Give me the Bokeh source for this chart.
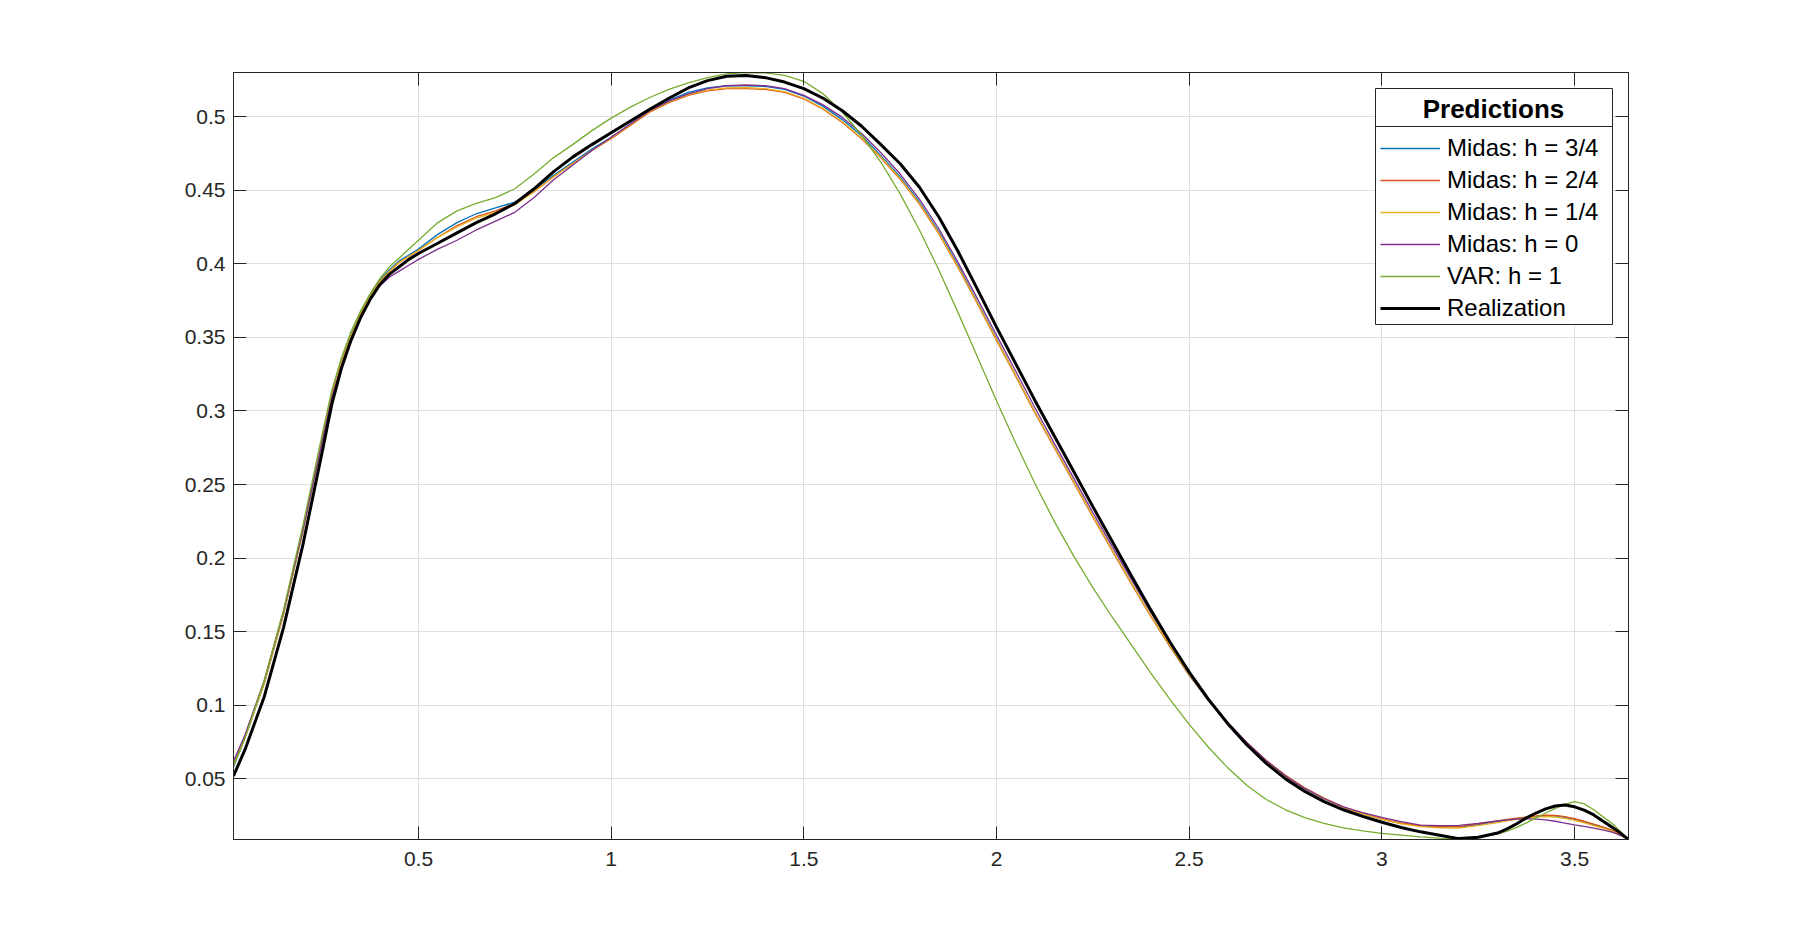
from bokeh.plotting import figure
from bokeh.models import (Range1d, LinearAxis, FixedTicker, Legend, LegendItem,
                          BoxAnnotation, Label)
from bokeh.embed import file_html
from bokeh.resources import INLINE

x = [0.02, 0.05, 0.10, 0.15, 0.20, 0.25, 0.275, 0.30, 0.325, 0.35,
     0.375, 0.40, 0.425, 0.45, 0.475, 0.50, 0.55, 0.60, 0.65, 0.70,
     0.75, 0.80, 0.85, 0.90, 0.95, 1.00, 1.05, 1.10, 1.15, 1.20,
     1.25, 1.30, 1.35, 1.40, 1.45, 1.50, 1.55, 1.60, 1.65, 1.70,
     1.75, 1.80, 1.85, 1.90, 1.95, 2.00, 2.05, 2.10, 2.15, 2.20,
     2.25, 2.30, 2.35, 2.40, 2.45, 2.50, 2.55, 2.60, 2.65, 2.70,
     2.75, 2.80, 2.85, 2.90, 2.95, 3.00, 3.05, 3.10, 3.15, 3.20,
     3.25, 3.30, 3.325, 3.35, 3.375, 3.40, 3.425, 3.45, 3.475, 3.50,
     3.525, 3.55, 3.575, 3.60, 3.62, 3.64]

midas_h34 = [0.058, 0.078, 0.115, 0.162, 0.218, 0.280, 0.311, 0.334, 0.352, 0.367,
             0.379, 0.389, 0.396, 0.402, 0.406, 0.410, 0.420, 0.428, 0.434, 0.438,
             0.442, 0.450, 0.460, 0.469, 0.478, 0.486, 0.495, 0.504, 0.511, 0.5165,
             0.5195, 0.521, 0.521, 0.5205, 0.5185, 0.514, 0.507, 0.498, 0.487, 0.4735,
             0.459, 0.442, 0.422, 0.399, 0.374, 0.349, 0.324, 0.299, 0.2755, 0.252,
             0.2285, 0.2055, 0.183, 0.161, 0.140, 0.1205, 0.103, 0.0875, 0.074, 0.062,
             0.052, 0.0435, 0.0365, 0.0305, 0.026, 0.0225, 0.0198, 0.018, 0.0172, 0.0172,
             0.019, 0.021, 0.022, 0.023, 0.0237, 0.0244, 0.0248, 0.0246, 0.0238, 0.0224,
             0.0207, 0.0188, 0.0168, 0.0146, 0.012, 0.0088]

midas_h24 = [0.060, 0.079, 0.116, 0.163, 0.219, 0.280, 0.311, 0.333, 0.351, 0.366,
             0.378, 0.388, 0.395, 0.401, 0.405, 0.409, 0.418, 0.426, 0.432, 0.436,
             0.441, 0.449, 0.459, 0.468, 0.477, 0.485, 0.494, 0.503, 0.5095, 0.5145,
             0.5175, 0.519, 0.519, 0.5185, 0.5165, 0.512, 0.505, 0.496, 0.485, 0.472,
             0.4575, 0.4405, 0.4205, 0.3975, 0.373, 0.348, 0.3235, 0.2985, 0.275, 0.2515,
             0.228, 0.205, 0.1825, 0.1605, 0.140, 0.1205, 0.1035, 0.088, 0.0745, 0.0625,
             0.0525, 0.044, 0.037, 0.031, 0.0265, 0.023, 0.020, 0.0183, 0.0176, 0.0176,
             0.0195, 0.0215, 0.0225, 0.0233, 0.0241, 0.0249, 0.0254, 0.0252, 0.0243, 0.0229,
             0.0212, 0.0193, 0.0172, 0.0149, 0.012, 0.0088]

midas_h14 = [0.059, 0.078, 0.115, 0.162, 0.218, 0.279, 0.310, 0.333, 0.351, 0.366,
             0.378, 0.388, 0.395, 0.401, 0.405, 0.409, 0.418, 0.425, 0.431, 0.435,
             0.440, 0.449, 0.459, 0.468, 0.477, 0.4855, 0.4945, 0.5035, 0.510, 0.515,
             0.518, 0.5195, 0.5198, 0.519, 0.517, 0.5125, 0.5055, 0.4965, 0.4855, 0.4725,
             0.458, 0.441, 0.421, 0.398, 0.3735, 0.3485, 0.324, 0.299, 0.2755, 0.252,
             0.2285, 0.2055, 0.183, 0.161, 0.1405, 0.121, 0.1035, 0.0875, 0.074, 0.062,
             0.052, 0.0435, 0.0365, 0.0305, 0.026, 0.0225, 0.0195, 0.0175, 0.0167, 0.0166,
             0.0182, 0.0203, 0.0214, 0.0225, 0.0233, 0.0240, 0.0244, 0.0241, 0.0232, 0.0218,
             0.0201, 0.0183, 0.0163, 0.0142, 0.0117, 0.0088]

midas_h0 = [0.062, 0.080, 0.117, 0.164, 0.219, 0.279, 0.309, 0.331, 0.349, 0.364,
            0.376, 0.385, 0.391, 0.395, 0.399, 0.403, 0.410, 0.416, 0.423, 0.429,
            0.435, 0.445, 0.457, 0.467, 0.477, 0.486, 0.495, 0.504, 0.5105, 0.5155,
            0.519, 0.521, 0.5215, 0.521, 0.519, 0.5145, 0.508, 0.4995, 0.4885, 0.4755,
            0.461, 0.444, 0.424, 0.401, 0.3765, 0.3515, 0.327, 0.302, 0.278, 0.2545,
            0.231, 0.208, 0.1855, 0.1635, 0.1425, 0.1225, 0.1045, 0.0885, 0.0745, 0.0625,
            0.052, 0.0435, 0.0365, 0.031, 0.027, 0.0238, 0.021, 0.0186, 0.0182, 0.0184,
            0.0198, 0.0215, 0.0222, 0.0227, 0.0228, 0.0226, 0.0222, 0.0212, 0.0200, 0.0188,
            0.0177, 0.0165, 0.0152, 0.0137, 0.0115, 0.0088]

var_h1 = [0.059, 0.078, 0.117, 0.165, 0.222, 0.284, 0.314, 0.336, 0.354, 0.368,
          0.380, 0.390, 0.398, 0.404, 0.410, 0.416, 0.428, 0.436, 0.441, 0.445,
          0.451, 0.461, 0.472, 0.481, 0.4905, 0.499, 0.5065, 0.513, 0.5185, 0.523,
          0.5265, 0.529, 0.530, 0.5297, 0.528, 0.524, 0.5155, 0.503, 0.4875, 0.469,
          0.4475, 0.423, 0.396, 0.367, 0.337, 0.307, 0.278, 0.2505, 0.225, 0.2015,
          0.180, 0.160, 0.141, 0.122, 0.104, 0.087, 0.0715, 0.0575, 0.0455, 0.036,
          0.029, 0.0237, 0.0197, 0.0167, 0.0146, 0.013, 0.0118, 0.0106, 0.0098, 0.0093,
          0.0102, 0.0125, 0.0145, 0.017, 0.0201, 0.0235, 0.0268, 0.030, 0.0326, 0.0345,
          0.033, 0.029, 0.024, 0.0192, 0.014, 0.0088]

realization = [0.052, 0.070, 0.106, 0.153, 0.209, 0.272, 0.3045, 0.329, 0.348, 0.3635,
               0.376, 0.386, 0.393, 0.398, 0.403, 0.407, 0.414, 0.421, 0.428, 0.434,
               0.441, 0.451, 0.4625, 0.4725, 0.481, 0.489, 0.497, 0.505, 0.5125, 0.5195,
               0.5245, 0.5275, 0.528, 0.5265, 0.5235, 0.519, 0.5125, 0.504, 0.4935, 0.481,
               0.468, 0.452, 0.432, 0.4085, 0.383, 0.357, 0.332, 0.307, 0.283, 0.259,
               0.235, 0.2115, 0.188, 0.165, 0.143, 0.1225, 0.104, 0.0875, 0.073, 0.0605,
               0.050, 0.0415, 0.0345, 0.029, 0.0245, 0.0205, 0.017, 0.014, 0.0117, 0.0094,
               0.0103, 0.0132, 0.016, 0.0195, 0.0235, 0.0268, 0.0296, 0.0316, 0.0322, 0.031,
               0.0288, 0.0255, 0.021, 0.0167, 0.013, 0.0088]

series_names = ["Midas: h = 3/4", "Midas: h = 2/4", "Midas: h = 1/4",
                "Midas: h = 0", "VAR: h = 1", "Realization"]
series_values = [midas_h34, midas_h24, midas_h14, midas_h0, var_h1, realization]
series_colors = ["#0072BD", "#D95319", "#EDB120", "#7E2F8E", "#77AC30", "#000000"]
series_widths = [1.3, 1.3, 1.3, 1.3, 1.3, 3.0]

legend_title = "Predictions"

x_ticks = [0.5, 1.0, 1.5, 2.0, 2.5, 3.0, 3.5]
x_tick_labels = ["0.5", "1", "1.5", "2", "2.5", "3", "3.5"]
y_ticks = [0.05, 0.1, 0.15, 0.2, 0.25, 0.3, 0.35, 0.4, 0.45, 0.5]
y_tick_labels = ["0.05", "0.1", "0.15", "0.2", "0.25", "0.3", "0.35", "0.4", "0.45", "0.5"]

all_vals = [v for s in series_values for v in s]
xr = Range1d(start=min(x), end=max(x))
yr = Range1d(start=min(all_vals), end=max(all_vals))

FONT = "Liberation Sans"
AX = "#262626"

# frame: left 233, top 72, width 1395, height 767
p = figure(width=1800, height=944, x_range=xr, y_range=yr,
           output_backend="svg", toolbar_location=None,
           min_border_left=233, min_border_right=172,
           min_border_top=72, min_border_bottom=105)
p.background_fill_color = "white"
p.border_fill_color = "white"
p.outline_line_color = AX

def style_axis(ax, ticks, labels, show_labels=True):
    ax.ticker = FixedTicker(ticks=ticks)
    if show_labels:
        ax.major_label_overrides = {t: l for t, l in zip(ticks, labels)}
    else:
        ax.major_label_overrides = {t: "" for t in ticks}
    ax.major_tick_in = 13
    ax.major_tick_out = 0
    ax.minor_tick_in = 0
    ax.minor_tick_out = 0
    ax.axis_line_color = AX
    ax.major_tick_line_color = AX
    ax.axis_line_width = 1
    ax.major_label_text_font = FONT
    ax.major_label_text_font_size = "21px"
    ax.major_label_text_color = AX

style_axis(p.xaxis[0], x_ticks, x_tick_labels)
p.xaxis[0].major_label_standoff = 12
style_axis(p.yaxis[0], y_ticks, y_tick_labels)
p.yaxis[0].major_label_standoff = 8

top_ax = LinearAxis()
style_axis(top_ax, x_ticks, x_tick_labels, show_labels=False)
p.add_layout(top_ax, "above")
right_ax = LinearAxis()
style_axis(right_ax, y_ticks, y_tick_labels, show_labels=False)
p.add_layout(right_ax, "right")

p.xgrid.ticker = FixedTicker(ticks=x_ticks)
p.ygrid.ticker = FixedTicker(ticks=y_ticks)
p.xgrid.grid_line_color = "#dedede"
p.ygrid.grid_line_color = "#dedede"

items = []
for name, vals, col, w in zip(series_names, series_values, series_colors, series_widths):
    r = p.line(x, vals, line_color=col, line_width=w)
    items.append(LegendItem(label=name, renderers=[r]))

# legend box (screen px relative to the frame's bottom-left corner)
box = BoxAnnotation(left=1142, right=1379, top=751, bottom=515,
                    left_units="screen", right_units="screen",
                    top_units="screen", bottom_units="screen",
                    fill_color="white", fill_alpha=1.0,
                    line_color=AX, line_width=1, line_alpha=1.0)
p.add_layout(box, "center")
sep = BoxAnnotation(left=1142, right=1379, top=713, bottom=713,
                    left_units="screen", right_units="screen",
                    top_units="screen", bottom_units="screen",
                    fill_alpha=0.0, line_color=AX, line_width=1, line_alpha=1.0)
p.add_layout(sep, "center")
title_lbl = Label(x=1260, y=731, x_units="screen", y_units="screen",
                  text=legend_title, text_align="center", text_baseline="alphabetic",
                  text_font=FONT, text_font_size="26px", text_font_style="bold",
                  text_color="black")
p.add_layout(title_lbl, "center")

legend = Legend(items=items, location=(1147, 517),
                margin=0, padding=2, spacing=4,
                label_height=28, glyph_height=28, glyph_width=60,
                label_standoff=7,
                label_text_font=FONT, label_text_font_size="24px",
                label_text_color="black",
                border_line_color=None, background_fill_alpha=0.0)
p.add_layout(legend, "center")

open("out.html", "w").write(file_html(p, INLINE))
